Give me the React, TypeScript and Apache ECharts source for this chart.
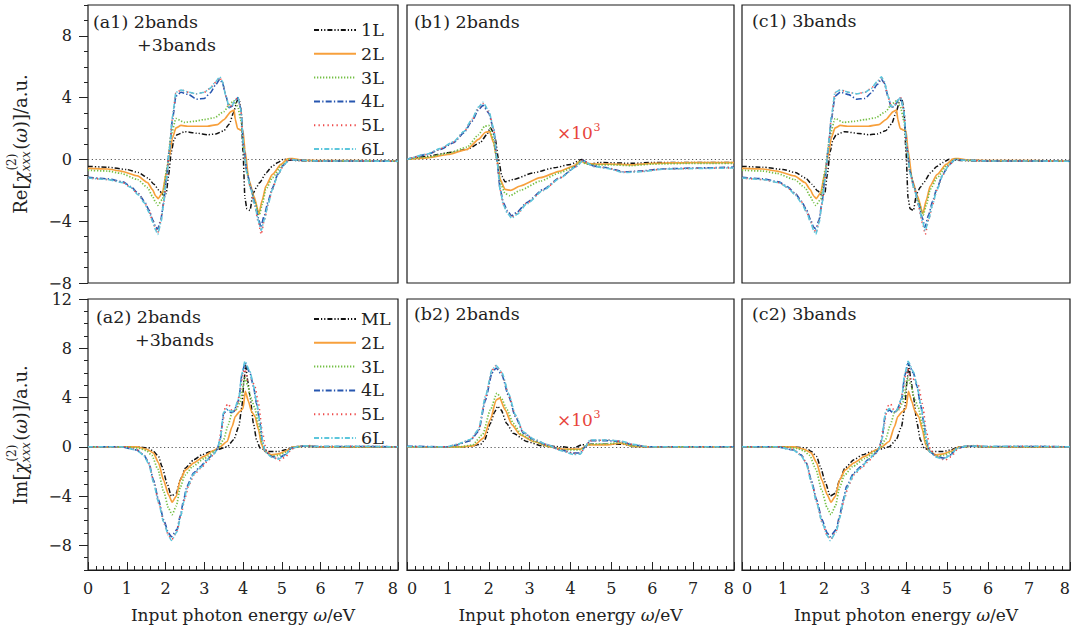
import React, { useEffect, useRef } from 'react';
import * as echarts from 'echarts';

const FONT = '"DejaVu Serif", serif';
const INK = '#222';

// ---------- categories / names / ticks ----------
const row1Names = ['1L', '2L', '3L', '4L', '5L', '6L'];
const row2Names = ['ML', '2L', '3L', '4L', '5L', '6L'];
const reMajorTicks = [-8, -4, 0, 4, 8];
const imMajorTicks = [-8, -4, 0, 4, 8, 12];

// ---------- (a1) Re, 2bands+3bands ----------
const a1_L1 = [[0,-0.45],[0.5,-0.5],[1,-0.65],[1.3,-0.85],[1.55,-1.2],[1.7,-1.6],[1.85,-2.05],[1.95,-2.3],[2.02,-2.2],[2.08,-1.0],[2.15,0.5],[2.22,1.3],[2.3,1.6],[2.5,1.8],[2.8,1.7],[3.1,1.6],[3.3,1.65],[3.5,1.85],[3.65,2.3],[3.75,3.0],[3.85,3.8],[3.9,3.9],[3.95,3.2],[4.0,0.5],[4.05,-2.5],[4.1,-3.2],[4.18,-3.3],[4.26,-2.2],[4.35,-1.8],[4.43,-1.5],[4.6,-0.86],[4.75,-0.45],[4.9,-0.2],[5.05,0.02],[5.2,-0.05],[5.5,-0.08],[6,-0.1],[7,-0.1],[8,-0.12]];
const a1_L2 = [[0,-0.58],[0.5,-0.62],[0.85,-0.75],[1.28,-1.07],[1.54,-1.5],[1.66,-1.94],[1.75,-2.37],[1.81,-2.54],[1.92,-2.15],[2.02,-0.9],[2.1,0.2],[2.18,1.4],[2.27,2.04],[2.4,2.2],[2.57,2.15],[2.83,2.15],[3.08,2.15],[3.34,2.26],[3.51,2.58],[3.69,3.1],[3.77,3.2],[3.8,2.6],[3.86,2.0],[3.94,1.9],[4.0,1.85],[4.05,0.6],[4.15,-1.3],[4.28,-2.37],[4.41,-3.5],[4.5,-2.6],[4.59,-1.72],[4.76,-0.97],[4.98,-0.32],[5.15,0.04],[5.28,0.06],[5.5,-0.05],[6,-0.08],[7,-0.08],[8,-0.1]];
const a1_L3 = [[0,-0.7],[0.5,-0.75],[0.85,-0.9],[1.28,-1.3],[1.54,-1.83],[1.66,-2.37],[1.75,-2.8],[1.8,-2.97],[1.92,-2.58],[2.03,-0.65],[2.14,1.5],[2.27,2.65],[2.48,2.4],[2.74,2.47],[3.0,2.58],[3.26,2.7],[3.51,3.1],[3.64,3.55],[3.77,3.8],[3.86,3.45],[3.95,2.5],[4.02,0.6],[4.1,-0.8],[4.2,-1.9],[4.3,-2.7],[4.42,-3.6],[4.5,-2.9],[4.59,-1.94],[4.76,-1.18],[5.0,-0.39],[5.2,0.02],[5.4,-0.05],[6,-0.1],[7,-0.1],[8,-0.12]];
const a1_L4 = [[0,-1.15],[0.5,-1.25],[0.9,-1.45],[1.1,-1.75],[1.3,-2.2],[1.45,-2.7],[1.58,-3.3],[1.67,-3.9],[1.75,-4.4],[1.8,-4.5],[1.88,-3.9],[1.95,-2.8],[2.02,-1.3],[2.1,0.6],[2.18,2.6],[2.27,4.1],[2.4,4.35],[2.6,4.2],[2.8,3.9],[3.0,3.95],[3.15,4.3],[3.3,4.85],[3.4,5.2],[3.47,4.95],[3.56,4.1],[3.64,3.35],[3.72,3.45],[3.8,3.8],[3.87,4.0],[3.94,3.3],[4.02,0.8],[4.1,-0.8],[4.2,-1.8],[4.3,-2.8],[4.4,-3.8],[4.46,-4.4],[4.55,-3.6],[4.65,-2.7],[4.75,-1.9],[4.9,-0.95],[5.05,-0.35],[5.2,0.0],[5.4,-0.05],[6,-0.1],[7,-0.1],[8,-0.12]];
const a1_L5 = [[0,-1.2],[0.5,-1.3],[0.9,-1.5],[1.1,-1.8],[1.3,-2.25],[1.45,-2.75],[1.58,-3.4],[1.67,-4.0],[1.75,-4.5],[1.8,-4.75],[1.88,-4.0],[1.95,-2.9],[2.02,-1.4],[2.1,0.6],[2.18,2.7],[2.27,4.3],[2.4,4.5],[2.6,4.35],[2.8,4.25],[3.0,4.35],[3.15,4.6],[3.3,5.0],[3.4,5.3],[3.47,5.0],[3.56,4.1],[3.64,3.4],[3.72,3.5],[3.8,3.85],[3.87,4.0],[3.94,3.3],[4.02,0.8],[4.1,-0.9],[4.2,-1.9],[4.3,-3.0],[4.4,-4.1],[4.47,-4.85],[4.55,-3.9],[4.65,-2.9],[4.75,-2.0],[4.9,-1.0],[5.05,-0.35],[5.2,0.0],[5.4,-0.05],[6,-0.1],[7,-0.1],[8,-0.12]];
const a1_L6 = [[0,-1.2],[0.5,-1.3],[0.9,-1.5],[1.1,-1.8],[1.3,-2.3],[1.45,-2.8],[1.58,-3.45],[1.67,-4.05],[1.75,-4.6],[1.8,-4.85],[1.88,-4.1],[1.95,-2.9],[2.02,-1.4],[2.1,0.6],[2.18,2.8],[2.27,4.35],[2.4,4.5],[2.6,4.35],[2.8,4.25],[3.0,4.35],[3.15,4.6],[3.3,5.05],[3.4,5.35],[3.47,5.05],[3.56,4.1],[3.64,3.4],[3.72,3.5],[3.8,3.85],[3.87,4.0],[3.94,3.3],[4.02,0.8],[4.1,-0.9],[4.2,-1.9],[4.3,-2.9],[4.4,-4.0],[4.47,-4.6],[4.55,-3.9],[4.65,-2.9],[4.75,-2.0],[4.9,-1.0],[5.05,-0.35],[5.2,0.0],[5.4,-0.05],[6,-0.1],[7,-0.1],[8,-0.12]];

// ---------- (b1) Re, 2bands (x10^3) ----------
const b1_L1 = [[0,0],[0.5,0.2],[1,0.43],[1.47,0.65],[1.79,1.08],[1.95,1.6],[2.04,2.05],[2.1,1.8],[2.16,1.3],[2.24,0],[2.32,-1.08],[2.4,-1.45],[2.6,-1.3],[3.1,-0.86],[3.6,-0.54],[4.0,-0.32],[4.28,0],[4.44,-0.32],[4.7,-0.2],[5.5,-0.25],[6,-0.2],[7,-0.2],[8,-0.2]];
const b1_L2 = [[0,0],[0.5,0.1],[1,0.32],[1.47,0.65],[1.75,1.3],[1.92,1.76],[2.02,1.8],[2.12,1.08],[2.2,0],[2.28,-1.3],[2.4,-1.94],[2.53,-2.0],[2.77,-1.72],[3.26,-1.18],[3.75,-0.75],[4.07,-0.43],[4.24,-0.1],[4.4,-0.26],[4.65,-0.3],[5.0,-0.3],[5.5,-0.35],[6,-0.25],[7,-0.2],[8,-0.2]];
const b1_L3 = [[0,0],[0.5,0.15],[1,0.4],[1.47,0.8],[1.75,1.6],[1.9,2.15],[2.0,2.2],[2.1,1.4],[2.2,0],[2.28,-1.5],[2.4,-2.2],[2.52,-2.35],[2.77,-2.0],[3.26,-1.4],[3.75,-0.85],[4.07,-0.5],[4.25,-0.12],[4.4,-0.3],[4.65,-0.35],[5.0,-0.35],[5.5,-0.4],[6,-0.3],[7,-0.25],[8,-0.25]];
const b1_L4 = [[0,0],[0.49,0.32],[0.81,0.65],[1.14,1.08],[1.39,1.72],[1.59,2.47],[1.75,3.23],[1.86,3.5],[2.0,3.0],[2.12,1.94],[2.2,0],[2.28,-1.94],[2.36,-2.8],[2.45,-3.3],[2.56,-3.65],[2.7,-3.4],[2.92,-2.8],[3.33,-1.94],[3.74,-1.18],[4.15,-0.43],[4.3,-0.06],[4.57,-0.43],[4.9,-0.54],[5.3,-0.8],[5.7,-0.75],[6.3,-0.6],[7.2,-0.55],[8,-0.5]];
const b1_L5 = [[0,0],[0.49,0.33],[0.81,0.68],[1.14,1.12],[1.39,1.78],[1.59,2.55],[1.75,3.35],[1.86,3.62],[2.0,3.1],[2.12,2.0],[2.2,0],[2.28,-2.0],[2.36,-2.9],[2.45,-3.4],[2.56,-3.75],[2.7,-3.5],[2.92,-2.85],[3.33,-2.0],[3.74,-1.2],[4.15,-0.45],[4.3,-0.06],[4.57,-0.45],[4.9,-0.56],[5.3,-0.82],[5.7,-0.78],[6.3,-0.62],[7.2,-0.57],[8,-0.55]];
const b1_L6 = [[0,0],[0.49,0.35],[0.81,0.7],[1.14,1.15],[1.39,1.8],[1.59,2.6],[1.75,3.4],[1.86,3.7],[2.0,3.15],[2.12,2.0],[2.2,0],[2.28,-2.0],[2.36,-2.95],[2.45,-3.45],[2.56,-3.8],[2.7,-3.55],[2.92,-2.9],[3.33,-2.0],[3.74,-1.22],[4.15,-0.45],[4.3,-0.08],[4.57,-0.45],[4.9,-0.58],[5.3,-0.85],[5.7,-0.8],[6.3,-0.62],[7.2,-0.58],[8,-0.55]];

// ---------- (a2) Im, 2bands+3bands ----------
const a2_L1 = [[0,0],[1.26,0],[1.57,-0.1],[1.69,-0.38],[1.82,-0.78],[1.91,-1.6],[2.04,-2.95],[2.15,-4.0],[2.28,-3.76],[2.38,-2.7],[2.51,-1.73],[2.73,-1.05],[2.94,-0.65],[3.16,-0.38],[3.37,-0.19],[3.59,0],[3.76,0.57],[3.89,1.64],[3.97,3.2],[4.03,5.5],[4.07,6.6],[4.12,5.4],[4.18,4.1],[4.27,1.9],[4.35,0.57],[4.44,-0.1],[4.65,-0.38],[4.91,-0.38],[5.1,-0.24],[5.3,0],[5.6,0.05],[6,0],[8,0]];
const a2_L2 = [[0,0],[1.26,0],[1.52,-0.2],[1.69,-0.5],[1.82,-1.3],[1.95,-2.7],[2.08,-3.9],[2.17,-4.5],[2.28,-4.0],[2.38,-2.7],[2.51,-1.9],[2.73,-1.3],[2.99,-0.78],[3.24,-0.3],[3.41,0],[3.59,0.43],[3.72,1.65],[3.8,2.46],[3.91,2.86],[4.0,3.1],[4.06,4.5],[4.14,3.7],[4.22,2.86],[4.31,2.46],[4.4,1.4],[4.48,0.16],[4.57,-0.38],[4.74,-0.65],[4.91,-0.57],[5.08,-0.38],[5.3,0],[5.6,0.05],[6,0],[8,0]];
const a2_L3 = [[0,0],[1,0],[1.3,-0.1],[1.5,-0.3],[1.65,-0.7],[1.8,-1.8],[1.95,-3.6],[2.08,-5.0],[2.17,-5.5],[2.28,-4.8],[2.38,-3.3],[2.5,-2.3],[2.7,-1.6],[3.0,-0.95],[3.25,-0.4],[3.38,0],[3.5,0.6],[3.62,1.8],[3.72,2.8],[3.82,3.0],[3.92,3.6],[4.05,5.6],[4.12,5.0],[4.2,4.0],[4.3,3.2],[4.4,1.8],[4.5,0.2],[4.6,-0.45],[4.75,-0.75],[4.92,-0.7],[5.1,-0.45],[5.3,-0.05],[5.6,0.05],[6,0],[8,0]];
const a2_L4 = [[0,0],[0.85,0],[1.25,-0.25],[1.44,-0.65],[1.57,-1.3],[1.69,-2.7],[1.82,-4.3],[1.95,-5.9],[2.08,-7.0],[2.15,-7.3],[2.3,-6.7],[2.38,-5.6],[2.47,-4.3],[2.55,-3.2],[2.73,-2.1],[2.9,-1.6],[3.07,-1.05],[3.24,-0.57],[3.33,-0.24],[3.41,0.57],[3.5,2.7],[3.59,3.0],[3.67,2.8],[3.76,2.86],[3.89,3.8],[3.97,5.8],[4.05,6.8],[4.18,6.0],[4.27,4.9],[4.35,3.5],[4.44,1.9],[4.5,0.5],[4.57,-0.38],[4.74,-0.78],[4.91,-0.92],[5.08,-0.65],[5.25,-0.1],[5.5,0.05],[6,0.02],[7,0.03],[8,0]];
const a2_L5 = [[0,0],[1,0],[1.25,-0.2],[1.45,-0.7],[1.58,-1.4],[1.7,-2.9],[1.83,-4.6],[1.96,-6.2],[2.08,-7.2],[2.17,-7.5],[2.3,-6.8],[2.4,-5.5],[2.5,-4.2],[2.6,-3.1],[2.75,-2.2],[2.95,-1.6],[3.1,-1.1],[3.25,-0.6],[3.35,-0.1],[3.45,1.5],[3.55,3.3],[3.62,3.5],[3.72,2.9],[3.82,3.0],[3.92,4.4],[4.0,6.0],[4.05,6.3],[4.12,5.4],[4.2,5.5],[4.3,5.0],[4.4,3.5],[4.5,1.2],[4.6,-0.3],[4.75,-0.8],[4.95,-1.1],[5.1,-0.8],[5.25,-0.2],[5.4,0.05],[5.7,0.1],[6,0],[7,0.05],[8,0]];
const a2_L6 = [[0,0],[0.85,0],[1.25,-0.25],[1.44,-0.7],[1.57,-1.4],[1.69,-2.9],[1.82,-4.5],[1.95,-6.1],[2.08,-7.2],[2.15,-7.6],[2.3,-6.9],[2.38,-5.8],[2.47,-4.5],[2.55,-3.4],[2.73,-2.2],[2.9,-1.7],[3.07,-1.1],[3.24,-0.6],[3.33,-0.25],[3.41,0.6],[3.5,2.8],[3.59,3.1],[3.67,2.9],[3.76,2.9],[3.89,3.9],[3.97,5.9],[4.05,6.95],[4.18,6.1],[4.27,5.0],[4.35,3.6],[4.44,2.0],[4.5,0.6],[4.57,-0.4],[4.74,-0.85],[4.91,-1.0],[5.08,-0.7],[5.25,-0.1],[5.5,0.08],[6,0.03],[7,0.05],[8,0]];

// ---------- (b2) Im, 2bands (x10^3) ----------
const b2_L1 = [[0,0],[1.5,0],[1.8,0.2],[1.9,0.57],[2.04,1.9],[2.14,2.8],[2.22,3.3],[2.3,3.0],[2.44,1.9],[2.6,1.1],[2.93,0.43],[3.3,0.08],[3.8,0],[4.07,-0.1],[4.28,0.16],[4.5,0.2],[5,0.2],[5.3,0.2],[5.6,0],[8,0]];
const b2_L2 = [[0,0],[1.3,0],[1.63,0.08],[1.87,0.7],[2.04,2.2],[2.18,3.8],[2.27,3.95],[2.4,3.0],[2.57,1.78],[2.77,0.97],[3.1,0.43],[3.5,0],[3.83,-0.19],[4.24,-0.19],[4.44,0.16],[4.9,0.16],[5.22,0.3],[5.54,0.03],[6,0],[8,0]];
const b2_L3 = [[0,0],[1.3,0],[1.6,0.15],[1.85,1.0],[2.04,3.0],[2.2,4.35],[2.3,4.0],[2.45,3.0],[2.6,1.9],[2.8,1.0],[3.1,0.45],[3.5,0],[3.83,-0.25],[4.24,-0.25],[4.42,0.2],[4.9,0.25],[5.22,0.35],[5.54,0.05],[6,0],[8,0]];
const b2_L4 = [[0,0.05],[0.98,0],[1.22,0.16],[1.55,0.5],[1.75,1.24],[1.92,3.8],[2.08,6.0],[2.18,6.4],[2.32,5.84],[2.49,4.08],[2.65,2.46],[2.85,1.1],[3.1,0.57],[3.42,0.16],[3.75,-0.24],[4.07,-0.51],[4.24,-0.5],[4.36,0],[4.48,0.5],[4.89,0.5],[5.22,0.43],[5.54,0.16],[5.87,0],[8,0]];
const b2_L5 = [[0,0],[0.98,0],[1.22,0.18],[1.55,0.55],[1.75,1.35],[1.92,4.0],[2.08,6.2],[2.18,6.6],[2.32,6.0],[2.49,4.2],[2.65,2.55],[2.85,1.15],[3.1,0.6],[3.42,0.18],[3.75,-0.26],[4.07,-0.55],[4.24,-0.55],[4.36,0],[4.48,0.5],[4.89,0.55],[5.22,0.45],[5.54,0.18],[5.87,0],[8,0]];
const b2_L6 = [[0,0.02],[0.98,0],[1.22,0.2],[1.55,0.6],[1.75,1.4],[1.92,4.1],[2.08,6.25],[2.18,6.6],[2.32,6.05],[2.49,4.3],[2.65,2.6],[2.85,1.2],[3.1,0.62],[3.42,0.2],[3.75,-0.3],[4.07,-0.62],[4.24,-0.6],[4.36,0],[4.48,0.55],[4.89,0.55],[5.22,0.48],[5.54,0.2],[5.87,0],[8,0]];

// (c1)/(c2) 3bands: read as identical to (a1)/(a2)
const c1_series = [a1_L1, a1_L2, a1_L3, a1_L4, a1_L5, a1_L6];
const c2_series = [a2_L1, a2_L2, a2_L3, a2_L4, a2_L5, a2_L6];

const panelData = [
  [a1_L1, a1_L2, a1_L3, a1_L4, a1_L5, a1_L6],
  [b1_L1, b1_L2, b1_L3, b1_L4, b1_L5, b1_L6],
  c1_series,
  [a2_L1, a2_L2, a2_L3, a2_L4, a2_L5, a2_L6],
  [b2_L1, b2_L2, b2_L3, b2_L4, b2_L5, b2_L6],
  c2_series,
];

const lineStyles: any[] = [
  { color: '#111111', width: 1.5, type: [5, 2, 1.2, 2, 1.2, 2] },
  { color: '#F7A03C', width: 1.7, type: 'solid' },
  { color: '#74BF45', width: 1.7, type: [1.3, 1.7] },
  { color: '#2756B0', width: 1.6, type: [6, 2.2, 1.3, 2.2] },
  { color: '#EE4A4A', width: 1.6, type: [1.3, 3.2] },
  { color: '#5CC6DC', width: 1.6, type: [5, 2, 1.3, 2] },
];

const grids = [
  { left: 88, top: 5, width: 310, height: 278 },
  { left: 407, top: 5, width: 327, height: 278 },
  { left: 742, top: 5, width: 328, height: 278 },
  { left: 88, top: 299, width: 310, height: 271 },
  { left: 407, top: 299, width: 327, height: 271 },
  { left: 742, top: 299, width: 328, height: 271 },
];

function measure(text: string, font: string): number {
  const ctx = document.createElement('canvas').getContext('2d');
  if (!ctx) return text.length * 9;
  ctx.font = font;
  return ctx.measureText(text).width;
}

const fnt = (sz: number, it?: boolean) => `${it ? 'italic ' : ''}${sz}px "DejaVu Serif"`;

function yName(prefix: string, cx: number, cy: number) {
  const fs = 18, ss = 12;
  const parts: any[] = [];
  let x = 0;
  const add = (t: string, sz: number, it: boolean) => {
    parts.push({ t, sz, it, x, dy: 0 });
    x += measure(t, fnt(sz, it));
  };
  add(prefix + '[', fs, false);
  add('χ', fs, true);
  const wSup = measure('(2)', fnt(ss, false));
  const wSub = measure('xxx', fnt(ss, true));
  parts.push({ t: '(2)', sz: ss, it: false, x: x + 1, dy: -8 });
  parts.push({ t: 'xxx', sz: ss, it: true, x: x, dy: 6 });
  x += Math.max(wSup, wSub) + 1.5;
  add('(', fs, false);
  add('ω', fs, true);
  add(')]/a.u.', fs, false);
  const total = x;
  return {
    type: 'group', x: cx, y: cy, rotation: Math.PI / 2, silent: true,
    children: parts.map((p) => ({
      type: 'text', x: p.x - total / 2, y: p.dy,
      style: { text: p.t, font: fnt(p.sz, p.it), fill: INK, textAlign: 'left', textVerticalAlign: 'middle', verticalAlign: 'middle' },
    })),
  };
}

function times10(x: number, y: number) {
  const w = measure('×10', fnt(17));
  return {
    type: 'group', x, y, silent: true,
    children: [
      { type: 'text', x: 0, y: 0, style: { text: '×10', font: fnt(17), fill: '#E8453C', textAlign: 'left', textVerticalAlign: 'middle', verticalAlign: 'middle' } },
      { type: 'text', x: w + 0.5, y: -6, style: { text: '3', font: fnt(11), fill: '#E8453C', textAlign: 'left', textVerticalAlign: 'middle', verticalAlign: 'middle' } },
    ],
  };
}

function ptext(text: string, x: number, y: number) {
  return { type: 'text', x, y, silent: true, style: { text, font: fnt(17.5), fill: INK, textAlign: 'left', textVerticalAlign: 'middle', verticalAlign: 'middle' } };
}

function buildOption() {
  const gridList: any[] = grids.map((g) => ({ ...g, show: true, borderColor: '#1a1a1a', borderWidth: 1.2 }));
  const xAxis: any[] = [];
  const yAxis: any[] = [];
  const dataAxisIdx: number[] = [];
  const series: any[] = [];

  grids.forEach((_, g) => {
    const bottomRow = g >= 3;
    const min = bottomRow ? -10 : -8;
    const max = bottomRow ? 12 : 10;
    const isA = g === 0 || g === 3;

    dataAxisIdx.push(yAxis.length);
    yAxis.push({
      gridIndex: g, type: 'value', min, max, interval: 1,
      axisLine: { show: false },
      axisTick: { show: isA, inside: false, length: 4, lineStyle: { color: INK, width: 1 } },
      axisLabel: { show: false },
      splitLine: { show: false },
    });
    if (isA) {
      const majors = bottomRow ? imMajorTicks : reMajorTicks;
      yAxis.push({
        gridIndex: g, type: 'value', position: 'left', offset: 0, min, max, interval: 1,
        axisLine: { show: false },
        axisTick: { show: true, inside: false, length: 9, customValues: majors, lineStyle: { color: INK, width: 1 } },
        axisLabel: {
          show: true, customValues: majors, margin: 16, fontSize: 16, fontFamily: FONT, color: INK,
          formatter: (v: number) => (v < 0 ? '−' + Math.abs(v) : String(v)),
        },
        splitLine: { show: false },
      });
    }

    const xa: any = {
      gridIndex: g, type: 'value', min: 0, max: 8, interval: 1,
      axisLine: { show: true, onZero: false, lineStyle: { color: bottomRow ? '#1a1a1a' : 'transparent', width: 1.2 } },
      axisTick: { show: bottomRow, inside: true, length: 8, lineStyle: { color: INK, width: 1 } },
      minorTick: { show: bottomRow, splitNumber: 5, length: 4, lineStyle: { color: INK, width: 1 } },
      axisLabel: {
        show: bottomRow, margin: 10, fontSize: 16, fontFamily: FONT, color: INK,
        alignMinLabel: g === 3 ? 'center' : 'left', alignMaxLabel: 'right',
      },
      splitLine: { show: false },
    };
    if (bottomRow) {
      xa.name = 'Input photon energy {i|ω}/eV';
      xa.nameLocation = 'middle';
      xa.nameGap = 36;
      xa.nameTextStyle = { fontFamily: FONT, fontSize: 17, color: INK, rich: { i: { fontFamily: FONT, fontSize: 17, fontStyle: 'italic', color: INK } } };
    }
    xAxis.push(xa);

    const names = bottomRow ? row2Names : row1Names;
    panelData[g].forEach((d, k) => {
      const s: any = {
        type: 'line', name: names[k], xAxisIndex: g, yAxisIndex: dataAxisIdx[g],
        data: d, symbol: 'none', showSymbol: false, smooth: 0.2, smoothMonotone: 'x',
        lineStyle: lineStyles[k], itemStyle: { color: lineStyles[k].color },
        emphasis: { disabled: true }, silent: true, z: 3 + k,
      };
      if (k === 0) {
        s.markLine = {
          silent: true, symbol: ['none', 'none'], label: { show: false },
          lineStyle: { type: [1.2, 2.6], color: '#555', width: 1 },
          data: [{ yAxis: 0 }], z: 1,
        };
      }
      series.push(s);
    });
  });

  // Inward bottom ticks of the lower row: thin strips along each panel's bottom edge whose
  // own x axis (same 0–8 scale) draws its split lines as the major (1 eV) and minor (0.2 eV) ticks.
  [3, 4, 5].forEach((g) => {
    const G = grids[g];
    const bottom = G.top + G.height;
    [[8, 1], [4, 0.2]].forEach(([len, step]) => {
      const gi = gridList.length;
      gridList.push({ left: G.left, top: bottom - len, width: G.width, height: len, show: false });
      xAxis.push({
        gridIndex: gi, type: 'value', min: 0, max: 8, interval: step,
        axisLine: { show: false }, axisTick: { show: false }, axisLabel: { show: false },
        splitLine: { show: true, lineStyle: { color: INK, width: 1, type: 'solid' } },
      });
      yAxis.push({
        gridIndex: gi, type: 'value', min: 0, max: 1,
        axisLine: { show: false }, axisTick: { show: false }, axisLabel: { show: false }, splitLine: { show: false },
      });
    });
  });

  const legendBase = {
    orient: 'vertical', left: 308, itemWidth: 42, itemHeight: 14, itemGap: 5.8,
    selectedMode: false,
    itemStyle: { opacity: 0, borderWidth: 0 },
    textStyle: { fontFamily: FONT, fontSize: 17.5, color: INK, lineHeight: 16 },
  };

  return {
    animation: false,
    backgroundColor: '#ffffff',
    grid: gridList,
    xAxis, yAxis, series,
    legend: [
      { ...legendBase, top: 16, data: row1Names },
      { ...legendBase, top: 305, data: row2Names },
    ],
    graphic: [
      ptext('(a1) 2bands', 93, 22),
      ptext('+3bands', 137, 45),
      ptext('(b1) 2bands', 414, 22),
      ptext('(c1) 3bands', 752, 21),
      ptext('(a2) 2bands', 96, 317),
      ptext('+3bands', 135, 340),
      ptext('(b2) 2bands', 414, 314),
      ptext('(c2) 3bands', 752, 314),
      times10(557, 133),
      times10(557, 420),
      yName('Re', 20, 144),
      yName('Im', 20, 435),
    ],
  };
}

export default function App() {
  const ref = useRef<HTMLDivElement>(null);
  useEffect(() => {
    if (!ref.current) return;
    const chart = echarts.init(ref.current, null, { renderer: 'svg' });
    chart.setOption(buildOption() as any);
    return () => chart.dispose();
  }, []);
  return <div ref={ref} style={{ position: 'absolute', left: 0, top: 0, width: 1075, height: 630, background: '#fff' }} />;
}
